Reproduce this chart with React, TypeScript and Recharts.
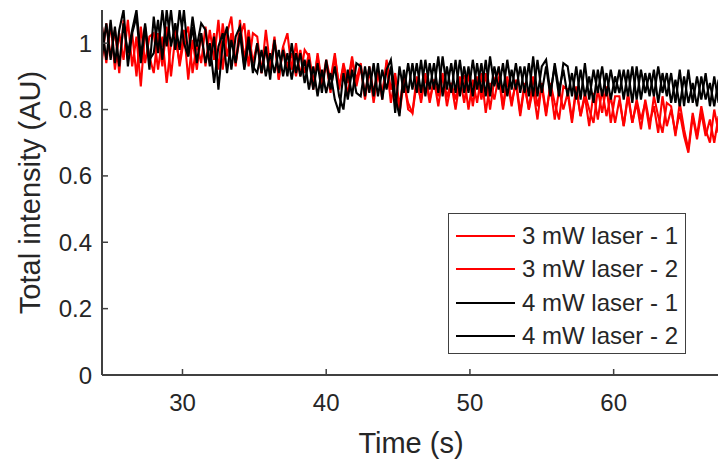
import React from 'react';
import { LineChart, Line, XAxis, YAxis, Legend, Label } from 'recharts';

const time = [
  24.4, 24.7, 25.0, 25.3, 25.6, 25.9, 26.2, 26.5, 26.8, 27.1, 27.4, 27.7,
  28.0, 28.3, 28.6, 28.9, 29.2, 29.5, 29.8, 30.1, 30.4, 30.7, 31.0, 31.3,
  31.6, 31.9, 32.2, 32.5, 32.8, 33.1, 33.4, 33.7, 34.0, 34.3, 34.6, 34.9,
  35.2, 35.5, 35.8, 36.1, 36.4, 36.7, 37.0, 37.3, 37.6, 37.9, 38.2, 38.5,
  38.8, 39.1, 39.4, 39.7, 40.0, 40.3, 40.6, 40.9, 41.2, 41.5, 41.8, 42.1,
  42.4, 42.7, 43.0, 43.3, 43.6, 43.9, 44.2, 44.5, 44.8, 45.1, 45.4, 45.7,
  46.0, 46.3, 46.6, 46.9, 47.2, 47.5, 47.8, 48.1, 48.4, 48.7, 49.0, 49.3,
  49.6, 49.9, 50.2, 50.5, 50.8, 51.1, 51.4, 51.7, 52.0, 52.3, 52.6, 52.9,
  53.2, 53.5, 53.8, 54.1, 54.4, 54.7, 55.0, 55.3, 55.6, 55.9, 56.2, 56.5,
  56.8, 57.1, 57.4, 57.7, 58.0, 58.3, 58.6, 58.9, 59.2, 59.5, 59.8, 60.1,
  60.4, 60.7, 61.0, 61.3, 61.6, 61.9, 62.2, 62.5, 62.8, 63.1, 63.4, 63.7,
  64.0, 64.3, 64.6, 64.9, 65.2, 65.5, 65.8, 66.1, 66.4, 66.7, 67.0, 67.3,
];

const red1 = [
  1.05, 0.94, 1.06, 0.92, 1.03, 0.95, 1.07, 0.93, 1.02, 0.87, 1.04, 0.96,
  0.91, 1.03, 0.93, 1.05, 0.90, 1.02, 0.94, 1.04, 0.89, 1.01, 0.92, 1.03,
  0.93, 1.04, 0.95, 1.07, 0.92, 1.03, 1.08, 0.94, 1.02, 1.06, 0.93, 1.03,
  1.02, 0.91, 1.04, 0.93, 1.01, 0.89, 0.99, 1.03, 0.92, 1.00, 0.90, 0.98,
  0.96, 0.86, 0.97, 0.88, 0.94, 0.85, 0.96, 0.87, 0.93, 0.84, 0.95, 0.89,
  0.94, 0.84, 0.93, 0.85, 0.92, 0.83, 0.95, 0.86, 0.91, 0.81, 0.90, 0.80,
  0.79, 0.90, 0.82, 0.91, 0.83, 0.89, 0.81, 0.90, 0.84, 0.88, 0.80, 0.89,
  0.90, 0.80, 0.89, 0.82, 0.91, 0.79, 0.88, 0.83, 0.90, 0.80, 0.89, 0.81,
  0.89, 0.79, 0.88, 0.80, 0.90, 0.81, 0.87, 0.78, 0.88, 0.82, 0.77, 0.87,
  0.86, 0.77, 0.87, 0.78, 0.85, 0.80, 0.76, 0.86, 0.79, 0.87, 0.76, 0.84,
  0.84, 0.75, 0.85, 0.76, 0.83, 0.77, 0.82, 0.74, 0.84, 0.78, 0.73, 0.82,
  0.81, 0.72, 0.82, 0.74, 0.68, 0.79, 0.72, 0.81, 0.74, 0.70, 0.80, 0.73,
];

const red2 = [
  0.95, 1.06, 0.96, 1.04, 0.91, 1.07, 0.95, 1.03, 0.90, 1.05, 0.94, 1.02,
  1.03, 0.92, 1.02, 0.88, 1.00, 1.04, 0.93, 1.01, 1.05, 0.91, 1.00, 0.94,
  1.05, 0.94, 1.03, 0.92, 1.06, 0.96, 1.03, 0.93, 1.07, 0.95, 1.04, 0.94,
  1.00, 0.91, 0.98, 0.92, 1.02, 0.89, 0.99, 0.93, 0.97, 0.90, 0.98, 0.91,
  0.97, 0.88, 0.96, 0.87, 0.95, 0.89, 0.97, 0.86, 0.94, 0.88, 0.96, 0.87,
  0.93, 0.83, 0.92, 0.82, 0.91, 0.85, 0.94, 0.82, 0.90, 0.79, 0.88, 0.82,
  0.79, 0.88, 0.83, 0.90, 0.82, 0.89, 0.84, 0.91, 0.81, 0.88, 0.83, 0.90,
  0.82, 0.91, 0.81, 0.90, 0.83, 0.91, 0.80, 0.89, 0.92, 0.81, 0.90, 0.82,
  0.88, 0.78, 0.87, 0.80, 0.86, 0.77, 0.88, 0.79, 0.87, 0.77, 0.86, 0.80,
  0.85, 0.76, 0.86, 0.78, 0.84, 0.75, 0.85, 0.77, 0.86, 0.78, 0.84, 0.76,
  0.83, 0.75, 0.84, 0.76, 0.82, 0.74, 0.83, 0.76, 0.81, 0.73, 0.84, 0.75,
  0.80, 0.73, 0.79, 0.72, 0.67, 0.78, 0.71, 0.79, 0.72, 0.77, 0.70, 0.78,
];

const black1 = [
  1.05, 0.95, 1.07, 0.94, 1.04, 1.10, 0.93, 1.03, 1.08, 0.94, 1.05, 0.92,
  1.08, 0.97, 1.10, 0.99, 1.10, 0.98, 1.10, 1.00, 0.96, 1.08, 0.99, 1.06,
  1.04, 0.93, 1.02, 0.86, 1.00, 1.05, 0.92, 1.02, 1.05, 0.93, 1.02, 0.91,
  1.00, 0.91, 0.99, 0.89, 1.01, 0.91, 0.98, 0.90, 1.00, 0.91, 0.97, 0.88,
  0.95, 0.86, 0.94, 0.85, 0.95, 0.86, 0.93, 0.84, 0.80, 0.92, 0.84, 0.94,
  0.93, 0.84, 0.93, 0.84, 0.94, 0.83, 0.92, 0.95, 0.84, 0.78, 0.92, 0.85,
  0.94, 0.85, 0.95, 0.84, 0.94, 0.86, 0.96, 0.84, 0.93, 0.85, 0.95, 0.84,
  0.93, 0.85, 0.95, 0.86, 0.94, 0.84, 0.96, 0.87, 0.93, 0.85, 0.95, 0.86,
  0.94, 0.85, 0.93, 0.84, 0.96, 0.84, 0.93, 0.95, 0.85, 0.93, 0.84, 0.94,
  0.93, 0.84, 0.93, 0.83, 0.94, 0.83, 0.92, 0.85, 0.93, 0.84, 0.92, 0.85,
  0.92, 0.83, 0.92, 0.82, 0.93, 0.83, 0.91, 0.84, 0.92, 0.82, 0.91, 0.84,
  0.91, 0.82, 0.92, 0.81, 0.92, 0.82, 0.90, 0.83, 0.91, 0.81, 0.90, 0.82,
];

const black2 = [
  0.96, 1.06, 0.95, 1.05, 0.93, 1.06, 0.97, 1.04, 1.10, 0.96, 1.06, 0.95,
  0.97, 1.07, 0.95, 1.10, 0.99, 1.06, 0.98, 1.10, 0.96, 1.05, 0.94, 1.03,
  0.94, 1.00, 0.88, 0.99, 1.03, 0.91, 1.01, 0.94, 1.03, 0.92, 1.00, 0.93,
  0.91, 0.98, 0.90, 0.97, 0.91, 0.98, 0.90, 0.97, 0.89, 0.97, 0.90, 0.95,
  0.86, 0.93, 0.84, 0.92, 0.85, 0.91, 0.83, 0.79, 0.91, 0.83, 0.92, 0.85,
  0.84, 0.93, 0.85, 0.94, 0.84, 0.92, 0.86, 0.93, 0.79, 0.93, 0.85, 0.94,
  0.86, 0.94, 0.85, 0.95, 0.86, 0.94, 0.85, 0.96, 0.86, 0.94, 0.85, 0.95,
  0.85, 0.93, 0.84, 0.94, 0.85, 0.95, 0.84, 0.93, 0.86, 0.94, 0.84, 0.92,
  0.86, 0.93, 0.85, 0.94, 0.84, 0.95, 0.85, 0.93, 0.84, 0.94, 0.86, 0.92,
  0.84, 0.91, 0.83, 0.92, 0.84, 0.90, 0.82, 0.92, 0.84, 0.91, 0.83, 0.90,
  0.85, 0.92, 0.84, 0.93, 0.83, 0.92, 0.85, 0.91, 0.84, 0.93, 0.85, 0.91,
  0.82, 0.89, 0.81, 0.90, 0.82, 0.88, 0.81, 0.90, 0.83, 0.88, 0.81, 0.89,
];

const seriesNames = ['3 mW laser - 1', '3 mW laser - 2', '4 mW laser - 1', '4 mW laser - 2'];
const seriesColors = ['#ff0000', '#ff0000', '#000000', '#000000'];
const xTicks = [30, 40, 50, 60];
const yTicks = [0, 0.2, 0.4, 0.6, 0.8, 1];

const data = time.map((t, i) => ({ t, r1: red1[i], r2: red2[i], b1: black1[i], b2: black2[i] }));
const keys = ['r1', 'r2', 'b1', 'b2'];

const FONT = '"Liberation Sans", Arial, Helvetica, sans-serif';
const AX = '#404040';
const TXT = '#262626';

const BottomTick = (props: any) => {
  const { x, y, payload } = props;
  return (
    <g>
      <line x1={x} y1={y} x2={x} y2={y - 6} stroke={AX} strokeWidth={1.5} />
      <text x={x} y={y + 36} textAnchor="middle" fontSize={24} fill={TXT} fontFamily={FONT}>{payload.value}</text>
    </g>
  );
};
const TopTick = (props: any) => {
  const { x, y } = props;
  return <line x1={x} y1={y} x2={x} y2={y + 6} stroke={AX} strokeWidth={1.5} />;
};
const LeftTick = (props: any) => {
  const { x, y, payload } = props;
  return (
    <g>
      <line x1={x} y1={y} x2={x + 6} y2={y} stroke={AX} strokeWidth={1.5} />
      <text x={x - 10} y={y + 8.5} textAnchor="end" fontSize={24} fill={TXT} fontFamily={FONT}>{String(payload.value)}</text>
    </g>
  );
};
const RightTick = (props: any) => {
  const { x, y } = props;
  return <line x1={x} y1={y} x2={x - 6} y2={y} stroke={AX} strokeWidth={1.5} />;
};

const LegendBox = (props: any) => {
  const payload = props.payload || [];
  return (
    <div style={{ width: 238, height: 141, boxSizing: 'border-box', border: `1.5px solid ${AX}`, background: '#fff', paddingTop: 5 }}>
      {payload.map((p: any, i: number) => (
        <div key={i} style={{ height: 33.5, display: 'flex', alignItems: 'center', fontFamily: FONT, fontSize: 24, color: TXT }}>
          <div style={{ width: 59, height: 2, backgroundColor: seriesColors[i], marginLeft: 7, marginRight: 7 }} />
          <span style={{ whiteSpace: 'nowrap' }}>{seriesNames[i]}</span>
        </div>
      ))}
    </div>
  );
};

export default function App() {
  return (
    <div style={{ position: 'absolute', left: 0, top: 0, width: 718, height: 463, overflow: 'hidden', background: '#fff' }}>
      <LineChart width={730} height={463} data={data} margin={{ top: 10, right: 10, left: 0, bottom: 0 }}>
        <XAxis xAxisId="b" dataKey="t" type="number" domain={[24.4, 67.4]} allowDataOverflow ticks={xTicks} height={88}
          tickSize={0} tickMargin={0} tick={<BottomTick />} axisLine={{ stroke: AX, strokeWidth: 2 }} tickLine={false}>
          <Label content={(p: any) => {
            const vb = p.viewBox;
            return <text x={vb.x + vb.width / 2} y={vb.y + 78} textAnchor="middle" fontSize={29} fill={TXT} fontFamily={FONT}>Time (s)</text>;
          }} />
        </XAxis>
        <XAxis xAxisId="t" orientation="top" dataKey="t" type="number" domain={[24.4, 67.4]} allowDataOverflow ticks={xTicks} height={0}
          tickSize={0} tickMargin={0} tick={<TopTick />} axisLine={{ stroke: AX, strokeWidth: 2 }} tickLine={false} />
        <YAxis yAxisId="l" type="number" domain={[0, 1.1]} allowDataOverflow ticks={yTicks} width={102}
          tickSize={0} tickMargin={0} tick={<LeftTick />} axisLine={{ stroke: AX, strokeWidth: 2 }} tickLine={false}>
          <Label content={(p: any) => {
            const vb = p.viewBox;
            const cx = vb.x + 30;
            const cy = vb.y + vb.height / 2;
            return <text x={cx} y={cy} transform={`rotate(-90, ${cx}, ${cy})`} textAnchor="middle" dominantBaseline="central" fontSize={29} fill={TXT} fontFamily={FONT}>Total intensity (AU)</text>;
          }} />
        </YAxis>
        <YAxis yAxisId="r" orientation="right" type="number" domain={[0, 1.1]} allowDataOverflow ticks={yTicks} width={0}
          tickSize={0} tickMargin={0} tick={<RightTick />} axisLine={{ stroke: AX, strokeWidth: 2 }} tickLine={false} />
        {keys.map((k, i) => (
          <Line key={k} xAxisId="b" yAxisId="l" dataKey={k} name={seriesNames[i]} stroke={seriesColors[i]} strokeWidth={2.1}
            dot={false} isAnimationActive={false} type="linear" />
        ))}
        <Legend layout="vertical" align="center" verticalAlign="middle" content={<LegendBox />}
          wrapperStyle={{ position: 'absolute', left: 448, top: 213, width: 238, height: 141 }} />
      </LineChart>
    </div>
  );
}
